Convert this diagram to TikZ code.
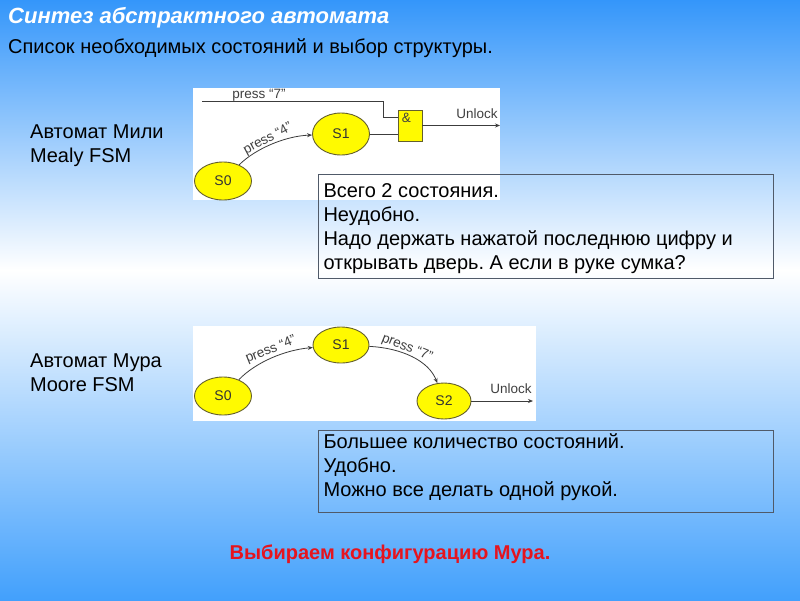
\documentclass[tikz,border=0pt]{standalone}
\usepackage{fontspec}
\setmainfont{Liberation Sans}
\usetikzlibrary{shapes.geometric,arrows.meta}
\definecolor{topblue}{RGB}{52,150,250}
\definecolor{botblue}{RGB}{66,160,252}
\definecolor{stfill}{RGB}{255,250,0}
\definecolor{stline}{RGB}{100,95,45}
\definecolor{wire}{RGB}{60,60,60}
\definecolor{boxline}{RGB}{80,90,105}
\definecolor{redtxt}{RGB}{230,20,30}
\frenchspacing
\begin{document}
\begin{tikzpicture}[x=1pt,y=-1pt,
  state/.style={ellipse,draw=stline,fill=stfill,line width=0.9pt,inner sep=0pt,
    font=\fontsize{14}{16}\selectfont,text=black!80},
  wirel/.style={draw=wire,line width=0.8pt},
  arr/.style={wirel,-{Stealth[length=5pt,width=4pt]}},
  dlabel/.style={font=\fontsize{13.5}{15}\selectfont,text=black!75,inner sep=0pt},
  txtbox/.style={draw=boxline,line width=1pt,anchor=north west,inner xsep=5pt,inner ysep=1pt,
    font=\fontsize{20}{24}\selectfont},
  side/.style={anchor=west,align=left,font=\fontsize{20}{24}\selectfont,inner sep=0pt}]
\useasboundingbox (0,0) rectangle (800,600);
% background
\shade[top color=topblue,bottom color=white] (0,0) rectangle (800,270);
\shade[top color=white,bottom color=botblue] (0,270) rectangle (800,600);
% titles
\node[anchor=west,inner sep=0pt,text=white,font=\fontsize{22}{26}\selectfont\bfseries\itshape] (title) at (8,18) {Синтез абстрактного автомата};
\node[anchor=west,inner sep=0pt,font=\fontsize{20}{24}\selectfont] (sub) at (8,48) {Список необходимых состояний и выбор структуры.};
% side labels
\node[side] (mealy) at (30,146) {Автомат Мили\\Mealy FSM};
\node[side] (moore) at (30,373) {Автомат Мура\\Moore FSM};
% Mealy picture
\fill[white] (193,88) rectangle (500,200);
\node[state,minimum width=57pt,minimum height=38pt] (a0) at (223,181) {S0};
\node[state,minimum width=57pt,minimum height=42pt] (a1) at (341,134) {S1};
\node[draw=stline,fill=stfill,line width=0.9pt,minimum width=24pt,minimum height=31pt,inner sep=0pt] (g) at (410,125.5) {};
\node[dlabel,anchor=north west] (amp) at ([xshift=4pt,yshift=-3pt]g.north west) {\&};
\coordinate (p7) at (202,101);
\draw[wirel] (p7) -- (383,101) |- ([yshift=8.5pt]g.west);
\node[dlabel] (l7) at (259,95) {press “7”};
\draw[wirel] (a1) -- (g.west |- a1);
\coordinate (u1) at (500,125.5);
\draw[arr] (g.east) -- (u1);
\node[dlabel] (lu1) at (477,114) {Unlock};
\draw[arr] (a0) .. controls (255,149) and (285,136) .. (a1);
\node[dlabel,rotate=28] (l4) at (268,139) {press “4”};
% Moore picture
\fill[white] (193,326) rectangle (536,421);
\node[state,minimum width=57pt,minimum height=38pt] (b0) at (223,396) {S0};
\node[state,minimum width=56pt,minimum height=36pt] (b1) at (341,345) {S1};
\node[state,minimum width=54pt,minimum height=36pt] (b2) at (444,401) {S2};
\draw[arr] (b0) .. controls (256,362) and (285,350) .. (b1);
\node[dlabel,rotate=22] (m4) at (271,350) {press “4”};
\draw[arr] (b1) .. controls (402,348) and (429,361) .. (b2);
\node[dlabel,rotate=-22] (m7) at (407,348) {press “7”};
\coordinate (u2) at (533,401);
\draw[arr] (b2) -- (u2);
\node[dlabel] (lu2) at (511,389) {Unlock};
% text boxes
\node[txtbox] (box1) at (318,174) {\parbox[c][102pt][t]{445pt}{\rule{0pt}{22pt}Всего 2 состояния.\\Неудобно.\\Надо держать нажатой последнюю цифру и\\открывать дверь. А если в руке сумка?}};
\node[txtbox] (box2) at (318,430) {\parbox[c][80pt][t]{445pt}{\rule{0pt}{17pt}Большее количество состояний.\\Удобно.\\Можно все делать одной рукой.}};
% conclusion
\node[inner sep=0pt,text=redtxt,font=\fontsize{20}{24}\selectfont\bfseries] (concl) at (390,554) {Выбираем конфигурацию Мура.};
\end{tikzpicture}
\end{document}
